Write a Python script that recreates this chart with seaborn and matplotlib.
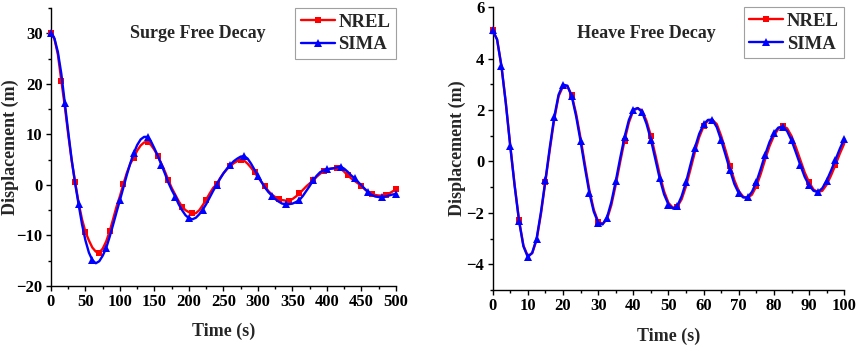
import numpy as np
import pandas as pd
import seaborn as sns
import matplotlib.pyplot as plt
import matplotlib as mpl
from matplotlib.ticker import MultipleLocator
from matplotlib.lines import Line2D

# surge free decay, sampled every 5 s (0..500 s)
surge_time = np.arange(0, 501, 5)
surge_nrel = [
    30.0, 28.9, 25.8, 20.6, 15.6, 10.0, 4.8, 0.6, -3.5, -6.8,
    -9.3, -11.0, -12.4, -13.2, -13.4, -12.6, -11.2, -9.2, -6.8, -4.3,
    -2.2, 0.2, 2.4, 4.2, 5.4, 6.8, 7.8, 8.4, 8.5, 7.9,
    6.9, 5.7, 4.2, 2.7, 1.0, -0.6, -1.9, -3.2, -4.3, -5.0,
    -5.4, -5.65, -5.6, -5.0, -4.0, -2.9, -1.7, -0.6, 0.1, 1.3,
    2.3, 3.1, 3.8, 4.3, 4.7, 4.9, 4.8, 4.2, 3.4, 2.5,
    1.5, 0.6, -0.3, -1.2, -1.9, -2.4, -2.8, -3.0, -3.1, -3.1,
    -2.8, -2.3, -1.7, -1.0, -0.3, 0.3, 0.9, 1.6, 2.2, 2.7,
    3.0, 3.2, 3.3, 3.4, 3.2, 2.6, 1.9, 1.3, 0.8, 0.3,
    -0.2, -0.9, -1.4, -1.8, -2.0, -2.1, -2.1, -2.0, -1.7, -1.3,
    -0.9,
]
surge_sima = [
    30.0, 29.0, 26.3, 22.0, 16.3, 10.5, 5.0, 0.3, -3.8, -7.8,
    -11.0, -13.4, -14.9, -15.5, -15.1, -14.0, -12.5, -10.3, -7.9, -5.4,
    -3.0, -0.5, 2.0, 4.3, 6.3, 7.9, 9.0, 9.5, 9.5, 8.6,
    7.2, 5.7, 4.0, 2.3, 0.5, -1.0, -2.3, -3.8, -5.0, -6.0,
    -6.6, -6.8, -6.5, -5.8, -4.9, -3.8, -2.5, -1.2, 0.0, 1.2,
    2.3, 3.2, 4.0, 4.7, 5.2, 5.6, 5.7, 5.2, 4.2, 3.0,
    1.8, 0.6, -0.5, -1.4, -2.1, -2.8, -3.3, -3.7, -3.8, -3.8,
    -3.7, -3.4, -3.0, -2.2, -1.2, -0.2, 0.9, 1.8, 2.5, 2.9,
    3.1, 3.2, 3.3, 3.5, 3.6, 3.2, 2.6, 1.9, 1.3, 0.6,
    -0.1, -0.8, -1.5, -2.0, -2.3, -2.4, -2.4, -2.3, -2.1, -1.9,
    -1.8,
]

# heave free decay, sampled every 1.25 s (0..100 s)
heave_time = np.arange(0, 100.01, 1.25)
heave_nrel = [
    5.10, 4.75, 3.72, 2.28, 0.63, -0.91, -2.28, -3.27, -3.68, -3.57,
    -3.05, -2.03, -0.78, 0.45, 1.63, 2.54, 2.92, 2.93, 2.57, 1.85,
    0.91, -0.12, -1.11, -1.87, -2.34, -2.42, -2.26, -1.70, -0.91, -0.03,
    0.81, 1.52, 1.98, 2.07, 1.98, 1.58, 1.00, 0.27, -0.50, -1.16,
    -1.61, -1.80, -1.76, -1.47, -0.96, -0.31, 0.36, 0.95, 1.37, 1.60,
    1.62, 1.45, 0.99, 0.43, -0.16, -0.73, -1.15, -1.37, -1.42, -1.29,
    -0.96, -0.48, 0.08, 0.60, 1.00, 1.27, 1.37, 1.29, 0.99, 0.55,
    0.06, -0.43, -0.81, -1.09, -1.19, -1.14, -0.90, -0.54, -0.13, 0.31,
    0.70,
]
heave_sima = [
    5.10, 4.75, 3.70, 2.25, 0.59, -0.95, -2.32, -3.30, -3.72, -3.55,
    -3.00, -1.95, -0.73, 0.55, 1.72, 2.60, 2.99, 2.95, 2.53, 1.75,
    0.79, -0.25, -1.22, -1.95, -2.38, -2.45, -2.19, -1.58, -0.77, 0.12,
    0.95, 1.62, 2.02, 2.08, 1.92, 1.47, 0.85, 0.10, -0.66, -1.28,
    -1.68, -1.83, -1.74, -1.35, -0.80, -0.13, 0.53, 1.08, 1.45, 1.62,
    1.62, 1.33, 0.82, 0.25, -0.34, -0.88, -1.24, -1.40, -1.40, -1.18,
    -0.80, -0.28, 0.27, 0.76, 1.11, 1.32, 1.36, 1.18, 0.82, 0.35,
    -0.14, -0.60, -0.93, -1.14, -1.19, -1.04, -0.74, -0.35, 0.07, 0.50,
    0.88,
]

red = (1.0, 0.0, 0.0)
blue = (0.0, 0.0, 1.0)

sns.set_theme(style="ticks")
mpl.rcParams.update({
    'font.family': ['Liberation Serif', 'DejaVu Serif'],
    'font.weight': 'bold',
    'axes.labelweight': 'bold',
    'axes.linewidth': 1.0,
    'xtick.direction': 'out',
    'ytick.direction': 'out',
    'xtick.major.size': 3.5,
    'ytick.major.size': 3.5,
    'xtick.minor.size': 2,
    'ytick.minor.size': 2,
    'xtick.major.width': 1.0,
    'ytick.major.width': 1.0,
    'xtick.minor.width': 1.0,
    'ytick.minor.width': 1.0,
    'xtick.color': 'black',
    'ytick.color': 'black',
    'axes.edgecolor': 'black',
})

fig = plt.figure(figsize=(8.58, 3.47), dpi=100)
ax1 = fig.add_axes([0.0594, 0.1758, 0.4021, 0.8012])
ax2 = fig.add_axes([0.5742, 0.1643, 0.4098, 0.8147])

LW = 1.7
SQ = 5.0
TRI = 6.0


def draw(ax, t, nrel, sima, nrel_every, sima_every, title, tx, ty, ylab_x, xlab_y):
    df = pd.DataFrame({'t': t, 'nrel': nrel, 'sima': sima})
    sns.lineplot(data=df, x='t', y='nrel', ax=ax, color=red, lw=LW,
                 marker='s', markersize=SQ, markeredgewidth=0,
                 markevery=nrel_every, zorder=3)
    sns.lineplot(data=df, x='t', y='sima', ax=ax, color=blue, lw=LW,
                 marker='^', markersize=TRI, markeredgewidth=0,
                 markevery=sima_every, zorder=4)
    ax.set_xlabel('Time (s)', fontsize=13, fontweight='bold')
    ax.set_ylabel('Displacement (m)', fontsize=13, fontweight='bold')
    ax.yaxis.set_label_coords(ylab_x, 0.5)
    ax.xaxis.set_label_coords(0.5, xlab_y)
    ax.text(tx, ty, title, transform=ax.transAxes, ha='center', va='center',
            fontsize=13, fontweight='bold')
    for s in ['top', 'right']:
        ax.spines[s].set_visible(False)
    ax.tick_params(pad=2.5)
    handles = [
        Line2D([], [], color=red, lw=LW, marker='s', markersize=SQ, markeredgewidth=0),
        Line2D([], [], color=blue, lw=LW, marker='^', markersize=TRI, markeredgewidth=0),
    ]
    leg = ax.legend(handles, ['NREL', 'SIMA'], loc='upper right', bbox_to_anchor=(1.0, 1.0),
                    borderaxespad=0, frameon=True, fancybox=False, framealpha=1,
                    edgecolor='#a0a0a0', handlelength=1.8, handletextpad=0.2,
                    borderpad=0.3, labelspacing=0.3,
                    prop={'family': 'Liberation Serif', 'weight': 'bold', 'size': 13.5})
    leg.get_frame().set_linewidth(0.8)


# red squares every ~17.2 s, blue triangles every 20 s
draw(ax1, surge_time, surge_nrel, surge_sima,
     list(np.round(np.linspace(0, 100, 30)).astype(int)), 4,
     'Surge Free Decay', 0.426, 0.91, -0.092, -0.133)
ax1.set_xlim(0, 500)
ax1.set_ylim(-20, 35)
ax1.xaxis.set_major_locator(MultipleLocator(50))
ax1.xaxis.set_minor_locator(MultipleLocator(25))
ax1.yaxis.set_minor_locator(MultipleLocator(5))
ax1.set_yticks([-20, -10, 0, 10, 20, 30])

# red squares every 7.5 s, blue triangles every 2.5 s
draw(ax2, heave_time, heave_nrel, heave_sima, 6, 2,
     'Heave Free Decay', 0.438, 0.908, -0.076, -0.134)
ax2.set_xlim(0, 100)
ax2.set_ylim(-5, 6)
ax2.xaxis.set_major_locator(MultipleLocator(10))
ax2.xaxis.set_minor_locator(MultipleLocator(5))
ax2.yaxis.set_minor_locator(MultipleLocator(1))
ax2.set_yticks([-4, -2, 0, 2, 4, 6])

for ax in (ax1, ax2):
    for lab in ax.get_xticklabels() + ax.get_yticklabels():
        lab.set_fontweight('bold')
        lab.set_fontsize(12)
    for ln in ax.get_lines():
        ln.set_clip_on(False)

fig.savefig('out.png', dpi=100)
